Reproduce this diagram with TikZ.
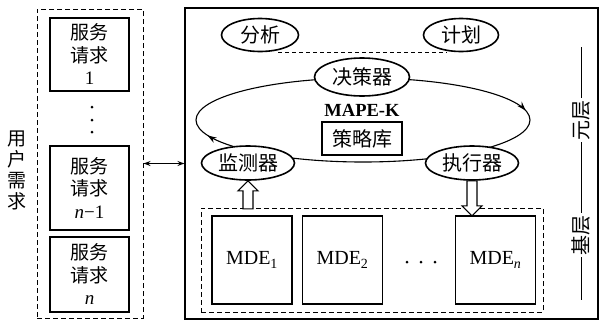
\documentclass[tikz,border=0pt]{standalone}
\usepackage{fontspec}
\setmainfont{Liberation Serif}
\newfontfamily\cjk{Noto Sans CJK SC}
\usetikzlibrary{arrows.meta,shapes.geometric,decorations.markings,calc}
\begin{document}
\begin{tikzpicture}[x=1pt,y=-1pt,
  dbox/.style={draw, line width=1pt, dash pattern=on 5pt off 3pt},
  sbox/.style={draw, line width=1.3pt, align=center, inner sep=0pt, minimum width=79pt, font=\fontsize{19}{22.5}\selectfont\cjk},
  ell/.style={draw, ellipse, line width=1.6pt, fill=white, inner sep=0pt, font=\fontsize{20}{22}\selectfont\cjk},
  mde/.style={draw, line width=1.3pt, minimum width=80pt, minimum height=88pt, inner sep=0pt, font=\fontsize{20}{22}\selectfont},
  dotmark/.style={circle, fill, inner sep=0pt, minimum size=3pt},
  side/.style={rotate=90, inner sep=2pt, font=\fontsize{20}{22}\selectfont\cjk},
  hollow/.style={draw, line width=1.1pt, fill=white}
]
\useasboundingbox (0,0) rectangle (599,322);
% left: user requests
\node[dbox, minimum width=106pt, minimum height=309pt] (lbox) at (90,163.5) {};
\node[sbox, minimum height=73pt] (s1) at (89.5,54.5) {服务\\请求\\{\rmfamily 1}};
\node[sbox, minimum height=84pt] (sn1) at (89.5,188) {服务\\请求\\{\rmfamily\itshape n\/}{\rmfamily −1}};
\node[sbox, minimum height=75pt] (sn) at (89.5,274.5) {服务\\请求\\{\rmfamily\itshape n}};
\node[dotmark] (ld1) at (92,107) {};
\node[dotmark] (ld2) at (92,120) {};
\node[dotmark] (ld3) at (92,132) {};
\node[align=center, font=\fontsize{19}{21}\selectfont\cjk] (user) at (17,170) {用\\户\\需\\求};
% main box
\node[draw, line width=1.1pt, minimum width=413pt, minimum height=311pt] (main) at (391.5,163.5) {};
\draw[line width=1.1pt, {Stealth[length=7pt,width=5pt]}-{Stealth[length=7pt,width=5pt]}] (lbox.east) -- (main.west);
% MAPE-K loop
\draw[line width=1.1pt, postaction={decorate}, decoration={markings,
   mark=at position 0.472 with {\arrow{Stealth[length=9pt,width=6pt]}},
   mark=at position 0.985 with {\arrow{Stealth[length=9pt,width=6pt]}}}]
   (363,120) ellipse [x radius=167, y radius=42];
\node[ell, minimum width=77pt, minimum height=33pt] (ana) at (260,35) {分析};
\node[ell, minimum width=75pt, minimum height=33pt] (pla) at (461,35) {计划};
\draw[line width=1pt, dash pattern=on 4pt off 3pt] ([xshift=18pt]ana.south) -- ([xshift=-14pt]pla.south);
\node[ell, minimum width=95pt, minimum height=38pt] (dec) at (362,77) {决策器};
\node[font=\bfseries\fontsize{18.5}{20}\selectfont] (mape) at (362,110) {MAPE-K};
\node[draw, line width=1.3pt, minimum width=80pt, minimum height=33pt, inner sep=0pt, font=\fontsize{20}{22}\selectfont\cjk] (kb) at (362,138.5) {策略库};
\node[ell, minimum width=93pt, minimum height=34pt] (mon) at (248,163) {监测器};
\node[ell, minimum width=93pt, minimum height=34pt] (exe) at (472,163) {执行器};
% MDEs
\node[dbox, minimum width=342pt, minimum height=104pt] (mdes) at (372,260) {};
\node[mde] (m1) at (252,260) {MDE\textsubscript{1}};
\node[mde] (m2) at (342.5,260) {MDE\textsubscript{2}};
\node[mde] (mn) at (495.5,260) {MDE\textsubscript{\itshape n}};
\node[dotmark] (md1) at (407,262) {};
\node[dotmark] (md2) at (421,262) {};
\node[dotmark] (md3) at (435,262) {};
% hollow arrows
\path[hollow] (mon.south) -- ++(10,10) -- ++(-5,0) -- ++(0,18) -- ++(-10,0) -- ++(0,-18) -- ++(-5,0) -- cycle;
\path[hollow] ([xshift=-5pt]exe.south) -- ++(0,25) -- ++(-5,0) -- ++(10,10) -- ++(10,-10) -- ++(-5,0) -- ++(0,-25) -- cycle;
% side labels
\coordinate (st) at (581,47);
\coordinate (sb) at (581,300);
\node[side] (yuan) at (581,120) {元层};
\node[side] (ji) at (581,235) {基层};
\draw[line width=0.9pt] (st) -- (yuan) (yuan) -- (ji) (ji) -- (sb);
\end{tikzpicture}
\end{document}
